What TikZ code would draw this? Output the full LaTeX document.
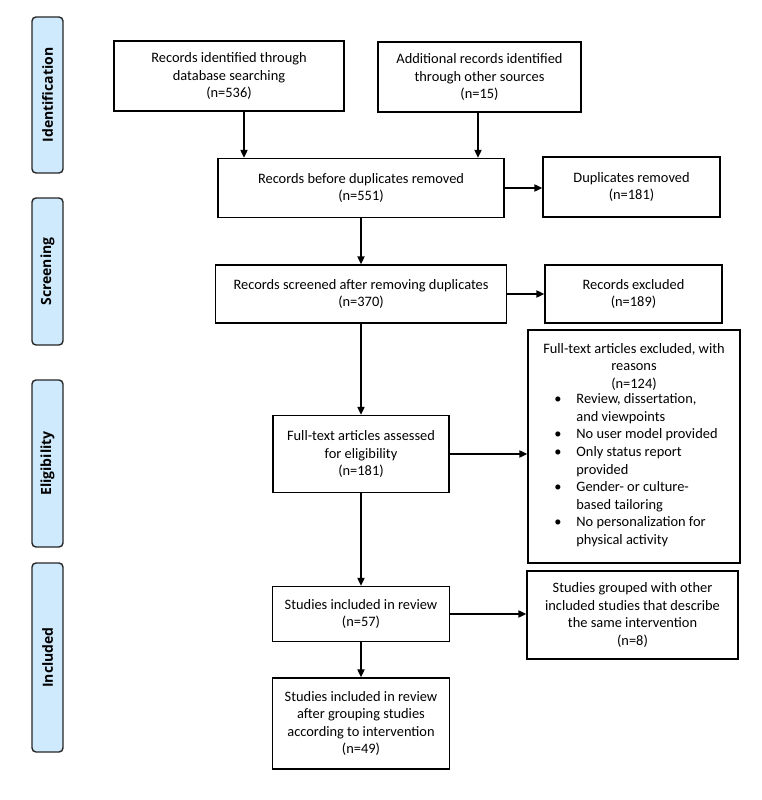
\documentclass[tikz,border=0pt]{standalone}
\usepackage{fontspec}
\setmainfont{Carlito}
\newfontfamily\sidefont{Open Sans}
\usetikzlibrary{arrows.meta}
\definecolor{sidefill}{RGB}{207,234,252}
\tikzset{
  box/.style={draw=black, line width=1.2pt, inner sep=0pt, align=center,
    font=\fontsize{14.4}{17.6}\selectfont},
  sidebar/.style={draw=black!85, line width=1.4pt, fill=sidefill, rounded corners=4pt,
    rotate=90, minimum height=31pt, inner sep=0pt,
    font=\sidefont\bfseries\fontsize{14}{16}\selectfont},
  arr/.style={line width=1.7pt, -{Triangle[length=8pt,width=7pt]}}
}
\begin{document}
\begin{tikzpicture}[x=1pt,y=-1pt]
\useasboundingbox (0,0) rectangle (761,800);
% side bars
\node[sidebar, minimum width=156pt] (sId) at (47.5,95) {Identification};
\node[sidebar, minimum width=147pt] (sSc) at (47.5,271.5) {Screening};
\node[sidebar, minimum width=167pt] (sEl) at (47.5,463.5) {Eligibility};
\node[sidebar, minimum width=189pt] (sIn) at (47.5,657.5) {Included};
% main boxes
\node[box, minimum width=230pt, minimum height=70pt] (b1) at (229,76)
  {Records identified through\\database searching\\(n=536)};
\node[box, minimum width=203pt, minimum height=70pt] (b2) at (479.5,77)
  {Additional records identified\\through other sources\\(n=15)};
\node[box, minimum width=286pt, minimum height=59pt] (b3) at (361,188)
  {Records before duplicates removed\\(n=551)};
\node[box, minimum width=177pt, minimum height=60pt] (dup) at (631.5,187)
  {Duplicates removed\\(n=181)};
\node[box, minimum width=291pt, minimum height=58pt] (b4) at (361,294)
  {Records screened after removing duplicates\\(n=370)};
\node[box, minimum width=177pt, minimum height=58pt] (ex1) at (633.5,294)
  {Records excluded\\(n=189)};
\node[box, minimum width=176pt, minimum height=77pt] (b5) at (361,454)
  {Full-text articles assessed\\for eligibility\\(n=181)};
\node[box, minimum width=212pt, minimum height=233pt] (ex2) at (634,446.5)
  {Full-text articles excluded, with\\reasons\\(n=124)\\
   \hspace*{4pt}\begin{tabular}{@{}p{22pt}@{}l@{}}
   \textbullet & Review, dissertation,\\
    & and viewpoints\\
   \textbullet & No user model provided\\
   \textbullet & Only status report\\
    & provided\\
   \textbullet & Gender- or culture-\\
    & based tailoring\\
   \textbullet & No personalization for\\
    & physical activity
   \end{tabular}};
\node[box, minimum width=177pt, minimum height=55pt] (b6) at (361,614)
  {Studies included in review\\(n=57)};
\node[box, minimum width=211pt, minimum height=88pt] (grp) at (632.5,615)
  {Studies grouped with other\\included studies that describe\\the same intervention\\(n=8)};
\node[box, minimum width=177pt, minimum height=91pt] (b7) at (361,723.5)
  {Studies included in review\\after grouping studies\\according to intervention\\(n=49)};
% connectors
\draw[arr] ([xshift=15pt]b1.south) -- ([xshift=15pt]b1.south |- b3.north);
\draw[arr] ([xshift=-1.5pt]b2.south) -- ([xshift=-1.5pt]b2.south |- b3.north);
\draw[arr] (b3.east) -- (dup.west |- b3.east);
\draw[arr] (b3.south) -- (b4.north);
\draw[arr] (b4.east) -- (ex1.west |- b4.east);
\draw[arr] (b4.south) -- (b4.south |- b5.north);
\draw[arr] (b5.east) -- (ex2.west |- b5.east);
\draw[arr] (b5.south) -- (b5.south |- b6.north);
\draw[arr] (b6.east) -- (grp.west |- b6.east);
\draw[arr] (b6.south) -- (b7.north);
\end{tikzpicture}
\end{document}
